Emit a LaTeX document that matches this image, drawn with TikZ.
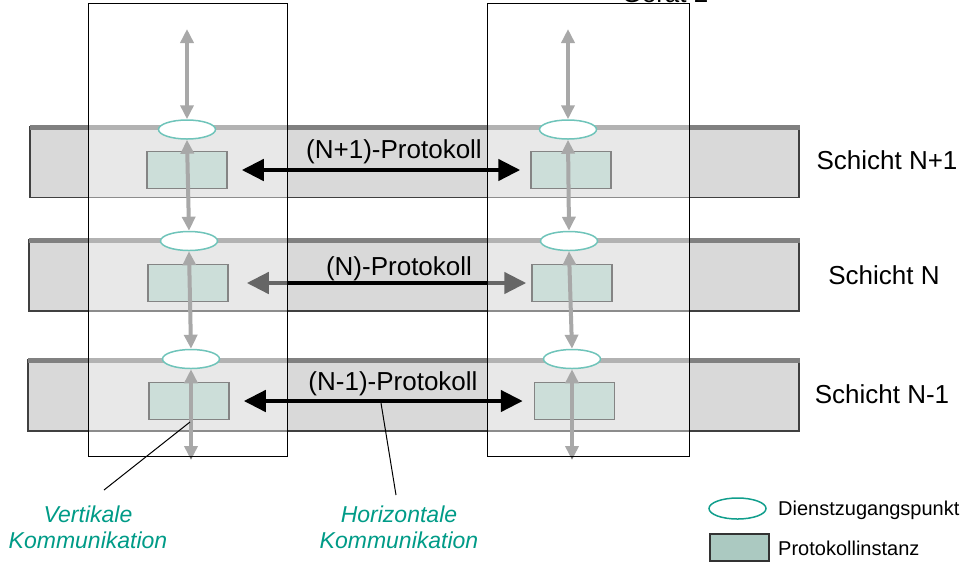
\documentclass[tikz,border=0pt]{standalone}
\usepackage{fontspec}
\setmainfont{Liberation Sans}
\usetikzlibrary{arrows.meta,shapes.geometric}
\definecolor{bandgray}{RGB}{217,217,217}
\definecolor{linegray}{RGB}{128,128,128}
\definecolor{instfill}{RGB}{171,201,193}
\definecolor{sapteal}{RGB}{16,158,140}
\definecolor{labelteal}{RGB}{0,155,135}
\definecolor{vgray}{RGB}{110,110,110}
\tikzset{
	sap/.style={ellipse, draw=sapteal, line width=1.5pt, fill=white, minimum width=57pt, minimum height=19pt, inner sep=0pt},
	instanz/.style={rectangle, draw=black!80, line width=1.5pt, fill=instfill, minimum width=80pt, minimum height=37pt, inner sep=0pt},
	vpfeil/.style={vgray, line width=4pt, {Triangle[width=13pt,length=14pt]}-{Triangle[width=13pt,length=14pt]}},
	hpfeil/.style={black, line width=4.5pt, {Triangle[width=21pt,length=22pt]}-{Triangle[width=21pt,length=22pt]}},
	band/.style={fill=bandgray, draw=black!75, line width=1.2pt},
	bandkante/.style={linegray, line width=5pt},
	geraet/.style={draw=black, line width=1pt, fill=white, fill opacity=0.4},
	schicht/.style={font=\fontsize{26}{30}\selectfont, anchor=base, inner sep=0pt},
	komm/.style={font=\fontsize{23}{26}\selectfont\itshape, text=labelteal, align=center, anchor=north, inner sep=0pt},
	legende/.style={font=\fontsize{20}{24}\selectfont, anchor=base west, inner sep=0pt},
	zeiger/.style={black, line width=1pt},
}

\begin{document}
\begin{tikzpicture}[x=1pt,y=-1pt]
		%%%%% START %%%%%
		\useasboundingbox (0,0) rectangle (968,566);
		
		% Schichten
		\draw[band] (30,127) rectangle (799,197.5);
		\draw[bandkante] (30,127) -- (800,127);
		\draw[band] (29,240) rectangle (799,311);
		\draw[bandkante] (29,240) -- (800,240);
		\draw[band] (28,360) rectangle (799,431);
		\draw[bandkante] (28,360) -- (800,360);
		
		% Dienstzugangspunkte und Instanzen
		\node[sap] (sA1) at (187,129.5) {};
		\node[sap] (sA2) at (189,241) {};
		\node[sap] (sA3) at (191,359) {};
		\node[sap] (sB1) at (568,129.5) {};
		\node[sap] (sB2) at (569,241) {};
		\node[sap] (sB3) at (572,359) {};
		
		\node[instanz] (iA1) at (187,170) {};
		\node[instanz] (iA2) at (188,283) {};
		\node[instanz] (iA3) at (189,401) {};
		\node[instanz] (iB1) at (571,170) {};
		\node[instanz] (iB2) at (572,283) {};
		\node[instanz] (iB3) at (574.5,401) {};
		
		\coordinate (topA) at (187,29);
		\coordinate (topB) at (568,29);
		\coordinate (botA) at (191,460);
		\coordinate (botB) at (572,460);
		
		\draw[vpfeil] (topA) -- (sA1.north);
		\draw[vpfeil] (sA1.south) -- (sA2.north);
		\draw[vpfeil] (sA2.south) -- (sA3.north);
		\draw[vpfeil] (sA3.south) -- (botA);
		\draw[vpfeil] (topB) -- (sB1.north);
		\draw[vpfeil] (sB1.south) -- (sB2.north);
		\draw[vpfeil] (sB2.south) -- (sB3.north);
		\draw[vpfeil] (sB3.south) -- (botB);
		
		\draw[hpfeil, shorten <=18pt, shorten >=5pt] (iA2.east) -- (iB2.west);
		
		% Geraete
		\draw[geraet] (88,3.5) rectangle (287,456);
		\draw[geraet] (487.5,3.5) rectangle (689.5,456.5);
		\node[schicht] (geraet2) at (665,2) {Gerät 2};
		
		\draw[hpfeil, shorten <=14pt, shorten >=10pt] (iA1.east) -- (iB1.west);
		\draw[hpfeil, shorten <=14pt, shorten >=11pt] (iA3.east) -- (iB3.west);
		
		% Beschriftung
		\node[schicht] (p1) at (394,158) {(N+1)-Protokoll};
		\node[schicht] (p2) at (399,275) {(N)-Protokoll};
		\node[schicht] (p3) at (393,390) {(N-1)-Protokoll};
		
		\node[schicht] (s1) at (887,169) {Schicht N+1};
		\node[schicht] (s2) at (884,284.5) {Schicht N};
		\node[schicht] (s3) at (882,403) {Schicht N-1};
		
		\node[komm] (vkomm) at (88,506) {Vertikale\\Kommunikation};
		\node[komm] (hkomm) at (399,506) {Horizontale\\Kommunikation};
		
		\coordinate (vk) at (190,422);
		\coordinate (vkEnde) at (104,490);
		\coordinate (hk) at (381,403);
		\coordinate (hkEnde) at (396,495);
		\draw[zeiger] (vk) -- (vkEnde);
		\draw[zeiger] (hk) -- (hkEnde);
		
		% Legende
		\node[sap, minimum height=21pt] (lsap) at (737.5,508.5) {};
		\node[instanz, minimum width=59pt, minimum height=27pt] (linst) at (739.5,547.5) {};
		\node[legende] (ltext1) at (778,515) {Dienstzugangspunkt};
		\node[legende] (ltext2) at (778,555) {Protokollinstanz};
		%%%%% END %%%%%
\end{tikzpicture}
\end{document}
